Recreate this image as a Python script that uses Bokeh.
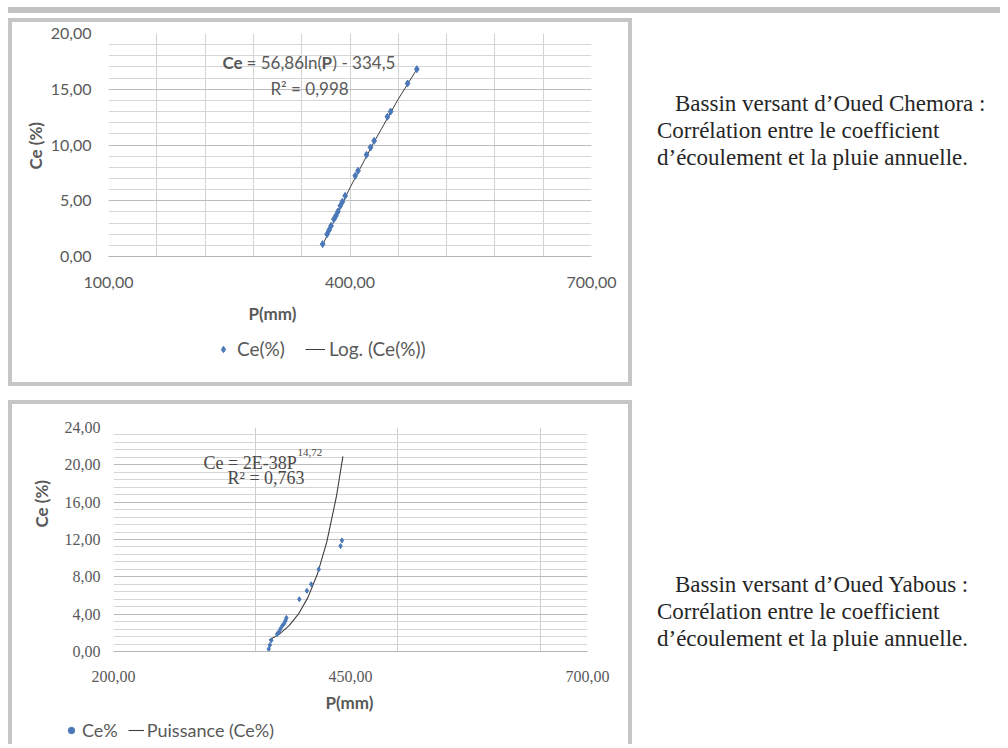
from bokeh.plotting import figure
from bokeh.models import Label, Legend, LegendItem, FixedTicker, Grid, Div, Range1d, Title
from bokeh.layouts import column, row
from bokeh.embed import file_html
from bokeh.resources import INLINE

# ---------------- data: Oued Chemora (top chart) ----------------
chem_p = [366, 371.5, 374, 376.5, 380, 382.5, 385, 388, 390.5, 394, 406.5, 410,
          420.5, 425.5, 430, 446.5, 450.5, 471.5, 483]
chem_ce = [1.11, 2.0, 2.37, 2.75, 3.35, 3.65, 4.04, 4.55, 4.9, 5.44, 7.24, 7.69,
           9.12, 9.78, 10.38, 12.53, 13.0, 15.52, 16.8]
chem_trend_p = [366, 400, 430, 460, 484]
chem_trend_ce = [1.04, 6.17, 10.29, 14.12, 16.9]
chem_xticks = [100, 400, 700]
chem_xlabels = ["100,00", "400,00", "700,00"]
chem_yticks = [0, 5, 10, 15, 20]
chem_ylabels = ["0,00", "5,00", "10,00", "15,00", "20,00"]
chem_xgrid = [100, 160, 220, 280, 340, 400, 460, 520, 580, 640, 700]
chem_ygrid = list(range(0, 21))
chem_caption = ["Bassin versant d\u2019Oued Chemora :",
                "Corr\u00e9lation entre le coefficient",
                "d\u2019\u00e9coulement et la pluie annuelle."]

# ---------------- data: Oued Yabous (bottom chart) ----------------
yab_p = [363.7, 365.0, 366.5, 372.6, 374.3, 376.0, 378.0, 380.0, 381.4, 382.4,
         396.0, 404.0, 408.5, 416.5, 439.5, 441.0]
yab_ce = [0.26, 0.7, 1.2, 1.86, 2.05, 2.4, 2.75, 3.0, 3.3, 3.6,
          5.6, 6.5, 7.2, 8.8, 11.3, 11.9]
yab_trend_p = [364, 375, 385, 395, 405, 415, 425, 435, 442]
yab_trend_ce = [1.2, 1.86, 2.74, 4.0, 5.77, 8.27, 11.74, 16.53, 20.9]
yab_xticks = [200, 450, 700]
yab_xlabels = ["200,00", "450,00", "700,00"]
yab_yticks = [0, 4, 8, 12, 16, 20, 24]
yab_ylabels = ["0,00", "4,00", "8,00", "12,00", "16,00", "20,00", "24,00"]
yab_xgrid = [200, 350, 500, 650]
yab_ygrid = [round(i * 0.8, 2) for i in range(31)]
yab_caption = ["Bassin versant d\u2019Oued Yabous :",
               "Corr\u00e9lation entre le coefficient",
               "d\u2019\u00e9coulement et la pluie annuelle."]

SANS = "Lato"
SERIF = "Liberation Serif"
TXT = "#595959"
BLUE = "#4a78b8"
TREND = "#3f3f3f"
BORDER = "#c6c6c6"


def base_fig(w, h, xr, yr, ml, mr, mt, mb):
    p = figure(width=w, height=h, x_range=Range1d(*xr), y_range=Range1d(*yr),
               output_backend="svg", toolbar_location=None,
               min_border_left=ml, min_border_right=mr,
               min_border_top=mt, min_border_bottom=mb)
    p.outline_line_color = None
    p.background_fill_color = "white"
    p.border_fill_color = "white"
    for ax in (p.xaxis, p.yaxis):
        ax.major_tick_out = 0
        ax.major_tick_in = 0
        ax.minor_tick_out = 0
        ax.minor_tick_in = 0
        ax.major_label_text_color = TXT
    p.yaxis.axis_line_color = None
    p.xaxis.axis_line_color = "#b5b5b5"
    return p


def legend_fig(w, h):
    # a strip whose frame is the whole canvas; the series drawn in it fall
    # outside its (0..1) ranges, so only the legend is visible
    lf = figure(width=w, height=h, output_backend="svg", toolbar_location=None,
                x_range=Range1d(0, 1), y_range=Range1d(0, 1),
                x_axis_location=None, y_axis_location=None, frame_align=False,
                min_border_left=0, min_border_right=0, min_border_top=0, min_border_bottom=0)
    lf.grid.visible = False
    lf.outline_line_color = None
    lf.background_fill_color = "white"
    lf.border_fill_color = "white"
    return lf


def lab(p, x, y, text, font, size, bold=False, align="left", color=TXT):
    p.add_layout(Label(x=x, y=y, text=text, text_font=font,
                       text_font_size=size, text_font_style="bold" if bold else "normal",
                       text_align=align, text_baseline="middle", text_color=color))


def side_title(p, text, place, offset, standoff):
    p.add_layout(Title(text=text, align="left", offset=offset, standoff=standoff,
                       text_font=SANS, text_font_size="17px", text_font_style="bold",
                       text_color=TXT), place)


# ================= top chart (canvas at page x=12, y=22) =================
TW, TH = 616, 314
t_left, t_right, t_top, t_bottom = 96, 37, 11, 80
t_fw, t_fh = TW - t_left - t_right, TH - t_top - t_bottom
top = base_fig(TW, TH, (100, 700), (0, 20), t_left, t_right, t_top, t_bottom)
def tx(px):
    return 100 + (px - 12 - t_left) * 600 / t_fw
def ty(py):
    return (TH - t_bottom - (py - 22)) * 20 / t_fh

top.xgrid.ticker = FixedTicker(ticks=chem_xgrid, minor_ticks=[])
top.xgrid.grid_line_color = "#d2d2d2"
top.ygrid.ticker = FixedTicker(ticks=chem_ygrid, minor_ticks=[])
top.ygrid.grid_line_color = "#d6d6d6"
top.add_layout(Grid(dimension=1, ticker=FixedTicker(ticks=chem_yticks, minor_ticks=[]),
                    grid_line_color="#bcbcbc"))
top.xaxis.ticker = FixedTicker(ticks=chem_xticks, minor_ticks=[])
top.xaxis.major_label_overrides = dict(zip(chem_xticks, chem_xlabels))
top.yaxis.ticker = FixedTicker(ticks=chem_yticks, minor_ticks=[])
top.yaxis.major_label_overrides = dict(zip(chem_yticks, chem_ylabels))
for ax in (top.xaxis, top.yaxis):
    ax.major_label_text_font = SANS
    ax.major_label_text_font_size = "16px"
top.xaxis.major_label_standoff = 20
top.yaxis.major_label_standoff = 17

top.line(chem_trend_p, chem_trend_ce, line_color=TREND, line_width=1)
top.scatter(chem_p, chem_ce, marker="diamond", size=7, color=BLUE)

lab(top, tx(222), ty(62), "Ce", SANS, "17px", bold=True)
lab(top, tx(246), ty(62), "= 56,86ln(", SANS, "17px")
lab(top, tx(321), ty(62), "P", SANS, "17px", bold=True)
lab(top, tx(332), ty(62), ") - 334,5", SANS, "17px")
lab(top, tx(309), ty(88), "R\u00b2 = 0,998", SANS, "17px", align="center")

side_title(top, "Ce (%)", "left", 87, 4)
side_title(top, "P(mm)", "below", 140, 21)

# legend strip (canvas at page x=12, y=336)
top_leg = legend_fig(TW, 46)
tl_sc = top_leg.scatter(chem_p, chem_ce, marker="diamond", size=7, color=BLUE)
tl_ln = top_leg.line(chem_trend_p, chem_trend_ce, line_color=TREND, line_width=1)
top_leg.add_layout(Legend(items=[LegendItem(label="Ce(%)", renderers=[tl_sc]),
                                 LegendItem(label="Log. (Ce(%))", renderers=[tl_ln])],
                          orientation="horizontal", location=(201, 22),
                          glyph_width=20, glyph_height=16, label_standoff=4, spacing=20,
                          padding=0, margin=0, border_line_color=None,
                          background_fill_alpha=0, label_text_font=SANS,
                          label_text_font_size="19px", label_text_color=TXT))

# ================= bottom chart (canvas at page x=12, y=404) =================
BW, BH = 616, 316
b_left, b_right, b_top, b_bottom = 101, 41, 23, 69
b_fw, b_fh = BW - b_left - b_right, BH - b_top - b_bottom
bot = base_fig(BW, BH, (200, 700), (0, 24), b_left, b_right, b_top, b_bottom)
def bx(px):
    return 200 + (px - 12 - b_left) * 500 / b_fw
def by(py):
    return (BH - b_bottom - (py - 404)) * 24 / b_fh

bot.xgrid.ticker = FixedTicker(ticks=yab_xgrid, minor_ticks=[])
bot.xgrid.grid_line_color = "#cfcfcf"
bot.ygrid.ticker = FixedTicker(ticks=yab_ygrid, minor_ticks=[])
bot.ygrid.grid_line_color = "#d6d6d6"
bot.add_layout(Grid(dimension=1, ticker=FixedTicker(ticks=yab_yticks, minor_ticks=[]),
                    grid_line_color="#bcbcbc"))
bot.xaxis.ticker = FixedTicker(ticks=yab_xticks, minor_ticks=[])
bot.xaxis.major_label_overrides = dict(zip(yab_xticks, yab_xlabels))
bot.yaxis.ticker = FixedTicker(ticks=yab_yticks, minor_ticks=[])
bot.yaxis.major_label_overrides = dict(zip(yab_yticks, yab_ylabels))
for ax in (bot.xaxis, bot.yaxis):
    ax.major_label_text_font = SERIF
    ax.major_label_text_font_size = "16px"
bot.xaxis.major_label_standoff = 19
bot.yaxis.major_label_standoff = 13

bot.line(yab_trend_p, yab_trend_ce, line_color=TREND, line_width=1.1)
bot.scatter(yab_p, yab_ce, marker="diamond", size=5, color=BLUE)

lab(bot, bx(203), by(462), "Ce = 2E-38P", SERIF, "18px", color="#4a4a4a")
lab(bot, bx(297), by(452), "14,72", SERIF, "11px", color="#4a4a4a")
lab(bot, bx(227), by(477), "R\u00b2 = 0,763", SERIF, "18px", color="#4a4a4a")

side_title(bot, "Ce (%)", "left", 124, 20)
side_title(bot, "P(mm)", "below", 212, 10)

# legend strip (canvas at page x=12, y=720)
bot_leg = legend_fig(BW, 24)
bl_sc = bot_leg.scatter(yab_p, yab_ce, marker="circle", size=4, color=BLUE)
bl_ln = bot_leg.line(yab_trend_p, yab_trend_ce, line_color=TREND, line_width=1.1)
bot_leg.add_layout(Legend(items=[LegendItem(label="Ce%", renderers=[bl_sc]),
                                 LegendItem(label="Puissance (Ce%)", renderers=[bl_ln])],
                          orientation="horizontal", location=(51, 3),
                          glyph_width=16, glyph_height=16, label_standoff=3, spacing=10,
                          padding=0, margin=0, border_line_color=None,
                          background_fill_alpha=0, label_text_font=SANS,
                          label_text_font_size="18px", label_text_color=TXT))


# ================= page layout =================
def block(w, h, color):
    return Div(width=w, height=h, margin=0, styles={"background-color": color})

def spacer(w, h):
    return Div(width=w, height=h, margin=0)

def caption(lines, pad_top, h):
    html = (f'<div style="font-family:\'{SERIF}\';font-size:23px;line-height:27px;'
            f'color:#262626;padding:{pad_top}px 0 0 25px;white-space:nowrap;margin:0;">'
            f'<div style="text-indent:18px">{lines[0]}</div>'
            f'<div>{lines[1]}</div><div>{lines[2]}</div></div>')
    return Div(text=html, width=368, height=h, margin=0)

top_inner = column(top, top_leg, spacing=0)
top_box = column(block(624, 4, BORDER),
                 row(block(4, 360, BORDER), top_inner, block(4, 360, BORDER), spacing=0),
                 block(624, 4, BORDER), spacing=0)
bot_inner = column(bot, bot_leg, spacing=0)
bot_box = column(block(624, 4, BORDER),
                 row(block(4, 340, BORDER), bot_inner, block(4, 340, BORDER), spacing=0),
                 spacing=0)

page = column(spacer(1000, 7),
              row(spacer(8, 6), block(992, 6, "#c2c2c2"), spacing=0),
              spacer(1000, 5),
              row(spacer(8, 368), top_box, caption(chem_caption, 72, 368), spacing=0),
              spacer(1000, 14),
              row(spacer(8, 344), bot_box, caption(yab_caption, 171, 344), spacing=0),
              spacing=0)

open("out.html", "w").write(file_html(page, INLINE))
